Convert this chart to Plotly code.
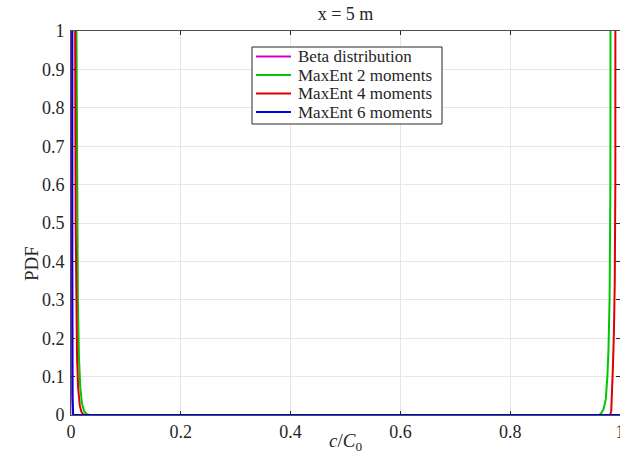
import plotly.graph_objects as go

# Data (c/C0 vs PDF)
beta_x = [0.0003, 0.0008, 0.0015, 0.003, 0.5, 1.0]
beta_y = [50, 3, 0.5, 0, 0, 0]

me2_x = [0.0, 0.008, 0.010, 0.011, 0.0125, 0.0145, 0.017, 0.020, 0.024, 0.028, 0.033,
         0.5,
         0.962, 0.966, 0.970, 0.974, 0.977, 0.979, 0.981, 0.9825, 0.983, 0.985, 1.0]
me2_y = [50, 3, 1.0, 0.55, 0.3, 0.15, 0.07, 0.03, 0.01, 0.003, 0,
         0,
         0, 0.005, 0.015, 0.04, 0.1, 0.17, 0.3, 0.6, 1.0, 3, 50]

me4_x = [0.0, 0.006, 0.0075, 0.0085, 0.0095, 0.011, 0.013, 0.016, 0.019, 0.022, 0.026,
         0.5,
         0.982, 0.984, 0.9855, 0.987, 0.989, 0.9905, 0.9915, 0.992, 0.994, 1.0]
me4_y = [50, 3, 1.0, 0.5, 0.3, 0.15, 0.07, 0.025, 0.008, 0.002, 0,
         0,
         0, 0.01, 0.05, 0.12, 0.22, 0.35, 0.6, 1.0, 3, 50]

me6_x = [0.0015, 0.002, 0.0025, 0.004, 0.5, 1.0]
me6_y = [50, 1.2, 0.05, 0, 0, 0]

series_names = ["Beta distribution", "MaxEnt 2 moments", "MaxEnt 4 moments", "MaxEnt 6 moments"]
series_colors = ["#cc00cc", "#00c800", "#e00000", "#0000e0"]

x_ticks = [0, 0.2, 0.4, 0.6, 0.8, 1]
x_ticklabels = ["0", "0.2", "0.4", "0.6", "0.8", "1"]
y_ticks = [0, 0.1, 0.2, 0.3, 0.4, 0.5, 0.6, 0.7, 0.8, 0.9, 1]
y_ticklabels = ["0", "0.1", "0.2", "0.3", "0.4", "0.5", "0.6", "0.7", "0.8", "0.9", "1"]

FONT = "Liberation Serif"
TXT = "#262626"
W, H = 620, 468
L, R, T, B = 71, 0, 31, 53
PW, PH = W - L - R, H - T - B

fig = go.Figure()
for name, xs, ys, col in zip(series_names, [beta_x, me2_x, me4_x, me6_x],
                             [beta_y, me2_y, me4_y, me6_y], series_colors):
    fig.add_trace(go.Scatter(x=xs, y=ys, mode="lines", name=name,
                             line=dict(color=col, width=2), showlegend=False))

axis_common = dict(
    automargin=False,
    showgrid=True, gridcolor="#e6e6e6", gridwidth=1,
    showline=True, linecolor="#4d4d4d", linewidth=1, mirror="ticks",
    ticks="inside", ticklen=4, tickcolor=TXT,
    zeroline=False,
    ticklabeloverflow="allow",
    tickfont=dict(family=FONT, size=18, color=TXT),
)

def fx(p):
    return (p - L) / PW

def fy(p):
    return (H - B - p) / PH

# Legend box drawn in paper coordinates (MATLAB-style compact legend)
box_l, box_r, box_t, box_b = 252, 442, 47, 124
shapes = [dict(type="rect", xref="paper", yref="paper",
               x0=fx(box_l), x1=fx(box_r), y0=fy(box_b), y1=fy(box_t),
               line=dict(color=TXT, width=1), fillcolor="white", layer="above")]
annotations = []
row_y0, row_dy = 56.5, 18.5
for i, (name, col) in enumerate(zip(series_names, series_colors)):
    yp = fy(row_y0 + i * row_dy)
    shapes.append(dict(type="line", xref="paper", yref="paper",
                       x0=fx(256), x1=fx(291), y0=yp, y1=yp,
                       line=dict(color=col, width=2), layer="above"))
    annotations.append(dict(text=name, xref="paper", yref="paper",
                            x=fx(296), y=yp, xanchor="left", yanchor="middle",
                            showarrow=False, font=dict(family=FONT, size=17, color=TXT)))

# axis titles placed as in the reference
annotations.append(dict(text="PDF", xref="paper", yref="paper", textangle=-90,
                        x=fx(31), y=fy(263), xanchor="center", yanchor="middle",
                        showarrow=False, font=dict(family=FONT, size=19, color=TXT)))
annotations.append(dict(text="<i>c</i>/<i>C</i><sub>0</sub>", xref="paper", yref="paper",
                        x=fx(345), y=fy(442), xanchor="center", yanchor="middle",
                        showarrow=False, font=dict(family=FONT, size=19, color=TXT)))

fig.update_layout(
    width=W, height=H,
    margin=dict(l=L, r=R, t=T, b=B, autoexpand=False),
    paper_bgcolor="white", plot_bgcolor="white",
    font=dict(family=FONT, size=18, color=TXT),
    title=dict(text="x = 5 m", x=(L + W) / 2 / W, xanchor="center",
               y=1 - 14 / H, yanchor="middle", automargin=False,
               font=dict(family=FONT, size=18, color=TXT)),
    xaxis=dict(range=[0, 1], tickvals=x_ticks, ticktext=x_ticklabels,
               ticklabelstandoff=0, **axis_common),
    yaxis=dict(range=[0, 1], tickvals=y_ticks, ticktext=y_ticklabels,
               ticklabelstandoff=2, **axis_common),
    shapes=shapes,
    annotations=annotations,
    showlegend=False,
)

fig.write_html("out.html", config={"displayModeBar": False},
               post_script="document.body.style.margin='0';document.body.style.overflow='hidden';")
